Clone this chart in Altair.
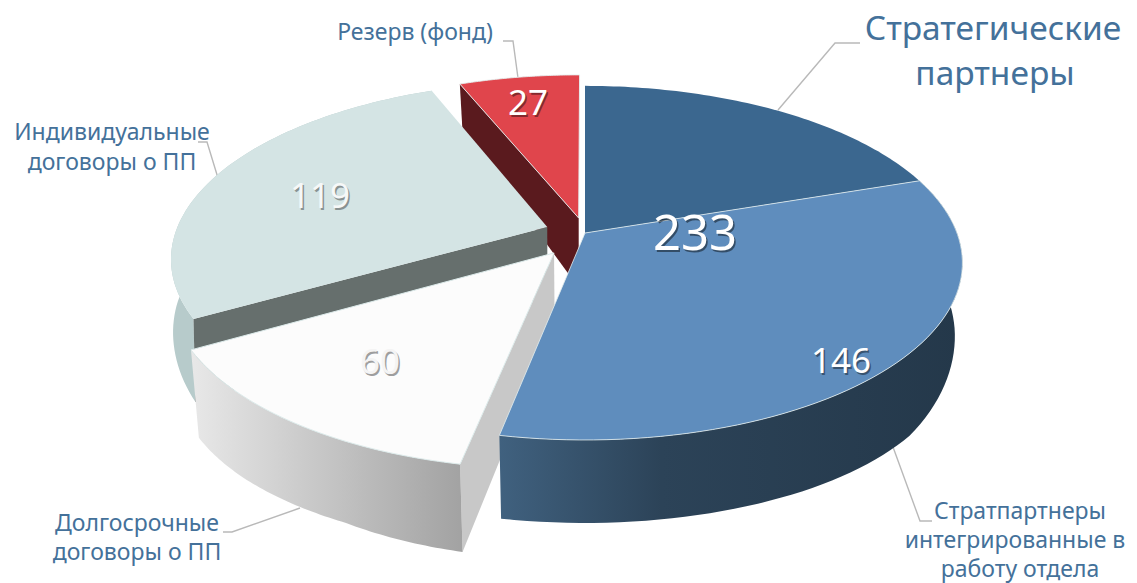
import numpy as np
import pandas as pd
import altair as alt

# data
names = ["Стратегические партнеры", "Стратпартнеры интегрированные в работу отдела",
         "Долгосрочные договоры о ПП", "Индивидуальные договоры о ПП", "Резерв (фонд)"]
values = [87, 146, 60, 119, 27]
total_strategic = 233
explode = [0.0, 0.0, 0.14, 0.108, 0.09]
shrink = [0.98, 0.98, 0.98, 0.995, 0.98]

# picture geometry: tilted disc
CX, CY, RX, RY, P = 585.0, 233.0, 372.0, 172.0, 0.169
DROP_V = [-1.3, -1.1, -1.0, -0.8, -0.6, -0.2, 0.0, 0.5, 1.1]
DROP_H = [92, 88, 83, 86, 88, 74, 70, 70, 40]

def proj(u, v, bottom=False, s=0.98):
    w = 1 + P * v
    X = CX + RX * u / w
    Y = CY - RY * v / w
    if bottom:
        X = CX + (X - CX) * s
        Y = Y + np.interp(v, DROP_V, DROP_H)
    return X, Y

fr = np.cumsum([0] + values) / sum(values) * 2 * np.pi
slices = []
for i in range(5):
    a, b = fr[i], fr[i + 1]
    mid = (a + b) / 2
    slices.append((a, b, explode[i] * np.sin(mid), explode[i] * np.cos(mid)))

def arc(i, a=None, b=None, bottom=False):
    s = slices[i]
    a = s[0] if a is None else a
    b = s[1] if b is None else b
    t = np.linspace(a, b, 70)
    return [proj(np.sin(x) + s[2], np.cos(x) + s[3], bottom, shrink[i]) for x in t]

def top(i):
    s = slices[i]
    ap = proj(s[2], s[3])
    return [ap] + arc(i) + [ap]

def outer(i, a=None, b=None):
    up = arc(i, a, b)
    dn = arc(i, a, b, bottom=True)[::-1]
    return up + dn + [up[0]]

def radial(i, ang):
    s = slices[i]
    a0 = proj(s[2], s[3])
    a1 = proj(s[2], s[3], True, shrink[i])
    c0 = proj(np.sin(ang) + s[2], np.cos(ang) + s[3])
    c1 = proj(np.sin(ang) + s[2], np.cos(ang) + s[3], True, shrink[i])
    return [a0, c0, c1, a1, a0]

SX = alt.Scale(domain=[8, 1129], nice=False, zero=False)
SY = alt.Scale(domain=[583, 8], nice=False, zero=False)

def grad(stops):
    return alt.LinearGradient(gradient="linear", x1=0, x2=1, y1=0, y2=0,
                              stops=[alt.GradientStop(offset=o, color=c) for o, c in stops])

def poly(points, fill, stroke=None, sw=0.0):
    df = pd.DataFrame(points, columns=["x", "y"])
    df["i"] = range(len(df))
    kw = dict(fill=fill, strokeWidth=sw, stroke=stroke if stroke else "transparent", strokeJoin="round")
    return alt.Chart(df).mark_line(**kw).encode(
        x=alt.X("x:Q", scale=SX, axis=None),
        y=alt.Y("y:Q", scale=SY, axis=None),
        order="i:Q",
    )

def leader(points):
    df = pd.DataFrame(points, columns=["x", "y"])
    df["i"] = range(len(df))
    return alt.Chart(df).mark_line(color="#b9b9b9", strokeWidth=1.4).encode(
        x=alt.X("x:Q", scale=SX, axis=None),
        y=alt.Y("y:Q", scale=SY, axis=None),
        order="i:Q",
    )

def text(rows, size, color, dx=0, dy=0, opacity=1.0, font="Noto Sans"):
    df = pd.DataFrame(rows, columns=["x", "y", "t"])
    return alt.Chart(df).mark_text(fontSize=size, color=color, font=font, align="center",
                                   baseline="middle", dx=dx, dy=dy, opacity=opacity).encode(
        x=alt.X("x:Q", scale=SX, axis=None),
        y=alt.Y("y:Q", scale=SY, axis=None),
        text="t:N",
    )

EDGE = "#e4efef"
layers = [
    leader([(860, 43), (835, 43), (778, 110)]),
    leader([(503, 41), (513, 41), (518, 78)]),
    leader([(198, 142), (207, 142), (218, 178)]),
    leader([(223, 532), (232, 532), (300, 508)]),
    leader([(932, 521), (920, 521), (893, 447)]),
    # reserve
    poly(radial(4, slices[4][0]), "#5a1a1e"),
    poly(top(4), "#e0454c", EDGE, 0.9),
    # individual
    poly(outer(3), "#b7cbcb"),
    poly(radial(3, slices[3][0]), "#666f6d"),
    poly(top(3), "#d4e4e4"),
    # long-term
    poly(radial(2, slices[2][0]), "#c8c8c8"),
    poly(outer(2), grad([(0, "#e8e8e8"), (1, "#a2a2a2")])),
    poly(top(2), "#fcfcfc", "#dceaea", 1.0),
    # strategic
    poly(top(0), "#3b678f"),
    poly(outer(1), grad([(0, "#40617f"), (0.35, "#2c4358"), (1, "#24384a")])),
    poly(top(1), "#5f8dbd", EDGE, 0.8),
]

LABEL = "#44719a"
layers += [
    text([(993, 30, "Стратегические"), (995, 75, "партнеры")], 33.5, LABEL),
    text([(415, 33, "Резерв (фонд)"), (112, 133, "Индивидуальные"), (112, 163, "договоры о ПП"),
          (137, 524, "Долгосрочные"), (137, 553, "договоры о ПП"), (1020, 512, "Стратпартнеры"),
          (1015, 541, "интегрированные в"), (1020, 570, "работу отдела")], 23, LABEL),
]
for rows, size, col, sh, op in [
    ([(695, 235, str(total_strategic))], 49, "#ffffff", "#000000", 0.45),
    ([(841, 362, str(values[1]))], 35, "#ffffff", "#000000", 0.4),
    ([(528, 104, str(values[4]))], 35, "#ffffff", "#000000", 0.4),
    ([(320, 197, str(values[3]))], 35, "#f6f8f8", "#6a7070", 0.7),
    ([(380, 363, str(values[2]))], 35, "#f4f4f4", "#777777", 0.7),
]:
    layers.append(text(rows, size, sh, dx=1.5, dy=2, opacity=op))
    layers.append(text(rows, size, col))

chart = alt.layer(*layers).properties(
    width=1121, height=575, padding=0, autosize=alt.AutoSizeParams(type="none"),
    background="white",
).configure_view(stroke=None)

chart.save("out.html", embed_options={"renderer": "svg", "actions": False})
